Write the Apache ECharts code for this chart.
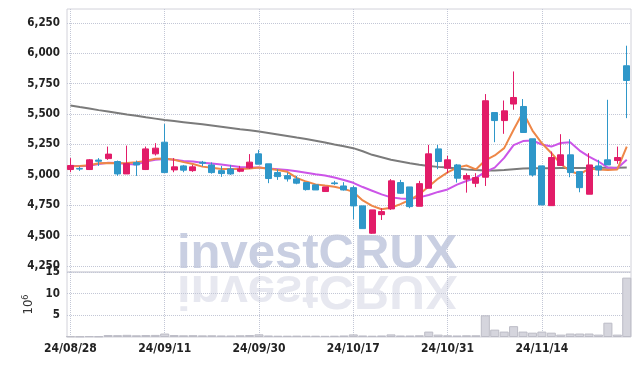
<!DOCTYPE html>
<html>
<head>
<meta charset="utf-8">
<script src="https://cdn.jsdelivr.net/npm/echarts@6/dist/echarts.min.js"></script>
<style>
html,body{margin:0;padding:0;background:#fff}
#chart{width:639px;height:366px}
</style>
</head>
<body>
<div id="chart"></div>
<script>
// trading days (yy/mm/dd)
var dates = ['24/08/28','24/08/29','24/08/30','24/09/02','24/09/03','24/09/04','24/09/05','24/09/06','24/09/09','24/09/10',
  '24/09/11','24/09/12','24/09/13','24/09/19','24/09/20','24/09/23','24/09/24','24/09/25','24/09/26','24/09/27',
  '24/09/30','24/10/02','24/10/04','24/10/07','24/10/08','24/10/10','24/10/11','24/10/14','24/10/15','24/10/16',
  '24/10/17','24/10/18','24/10/21','24/10/22','24/10/23','24/10/24','24/10/25','24/10/28','24/10/29','24/10/30',
  '24/10/31','24/11/01','24/11/04','24/11/05','24/11/06','24/11/07','24/11/08','24/11/11','24/11/12','24/11/13',
  '24/11/14','24/11/15','24/11/18','24/11/19','24/11/20','24/11/21','24/11/22','24/11/25','24/11/26','24/11/27'];

// open, close, low, high
var ohlc = [
  [5044,5077,5022,5138],[5052,5048,5033,5068],[5044,5124,5040,5130],[5122,5112,5074,5138],[5134,5171,5124,5233],
  [5110,5008,4992,5118],[5008,5093,5008,5241],[5101,5082,4992,5118],[5044,5214,5040,5233],[5173,5220,5159,5261],
  [5269,5019,5019,5418],[5041,5066,5022,5138],[5074,5039,5022,5082],[5035,5066,5025,5082],[5104,5096,5072,5115],
  [5082,5019,5010,5103],[5035,5011,4984,5074],[5049,5008,5000,5082],[5030,5049,5022,5074],[5058,5105,5049,5171],
  [5173,5088,5088,5206],[5091,4970,4932,5091],[5019,4986,4959,5047],[4994,4967,4945,5019],[4967,4932,4923,4992],
  [4937,4879,4871,4937],[4918,4876,4876,4918],[4863,4901,4863,4901],[4934,4928,4918,4951],[4909,4876,4871,4940],
  [4895,4745,4635,4909],[4745,4558,4558,4745],[4520,4712,4515,4712],[4673,4698,4629,4726],[4720,4951,4712,4965],
  [4937,4849,4843,4959],[4901,4739,4726,4901],[4742,4928,4742,4951],[4890,5173,4890,5247],[5214,5110,5047,5247],
  [5055,5124,5014,5157],[5082,4973,4937,5090],[4965,4994,4854,5014],[4931,4978,4899,5014],[4981,5610,4909,5665],
  [5513,5447,5269,5513],[5447,5527,5338,5612],[5583,5637,5536,5851],[5563,5349,5349,5624],[5297,5000,4986,5297],
  [5074,4753,4753,5074],[4747,5143,4747,5192],[5077,5165,5077,5335],[5165,5019,4981,5294],[5027,4895,4857,5027],
  [4841,5082,4841,5179],[5074,5041,4992,5124],[5124,5082,5082,5618],[5118,5143,5091,5233],[5898,5777,5467,6063]
];

// volume, millions
var volume = [0.15,0.12,0.18,0.14,0.45,0.42,0.5,0.4,0.45,0.48,
  0.8,0.45,0.4,0.42,0.38,0.4,0.36,0.35,0.4,0.45,
  0.62,0.35,0.3,0.3,0.32,0.3,0.3,0.28,0.3,0.35,
  0.6,0.35,0.3,0.35,0.6,0.35,0.35,0.4,1.25,0.55,
  0.4,0.35,0.4,0.4,5.0,1.7,1.25,2.5,1.25,1.0,
  1.25,1.0,0.55,0.8,0.8,0.8,0.55,3.3,0.55,13.7];

var maShort = [5072,5074,5080,5096,5098,5096,5098,5105,5115,5133,
  5135,5124,5105,5090,5068,5058,5049,5049,5049,5052,
  5060,5050,5040,5025,4975,4945,4922,4912,4903,4885,
  4860,4790,4745,4717,4730,4760,4795,4840,4905,4970,
  5020,5060,5077,5045,5120,5160,5220,5371,5515,5365,
  5260,5180,5090,5030,5005,5052,5045,5040,5045,5233];

var maMid = [5075,5072,5076,5090,5100,5098,5090,5085,5110,5125,
  5130,5124,5115,5110,5100,5093,5085,5075,5065,5060,
  5060,5052,5046,5040,5030,5018,5005,4995,4978,4958,
  4935,4900,4870,4840,4815,4806,4802,4815,4835,4860,
  4880,4920,4950,4975,5025,5060,5140,5245,5278,5283,
  5250,5233,5262,5269,5200,5150,5110,5060,5055,5124];

var maLong = [5571,5558,5546,5533,5521,5509,5497,5486,5474,5463,
  5452,5443,5434,5425,5416,5406,5396,5386,5376,5367,
  5357,5345,5333,5320,5307,5295,5281,5266,5250,5235,
  5220,5195,5165,5145,5125,5110,5095,5083,5074,5066,
  5060,5052,5045,5040,5036,5036,5040,5046,5052,5055,
  5055,5055,5056,5057,5057,5057,5058,5058,5059,5060];

var dateTicks = [0,10,20,30,40,50];
var priceTicks = [4250,4500,4750,5000,5250,5500,5750,6000,6250];
var volTicks = [5,10,15];

var UP = '#e21c68', DOWN = '#2f97c9';
var FONT = 'DejaVu Sans Condensed';
var gridLine = { show: true, lineStyle: { color: '#c3c7d6', type: 'dotted', width: 1 } };

function withIndex(arr) {
  return arr.map(function (v, i) { return [i].concat(v); });
}

var chart = echarts.init(document.getElementById('chart'));
var xBase = {
  type: 'value', min: -0.36, max: 59.45,
  axisLine: { show: false }, axisTick: { show: false, customValues: dateTicks },
  splitLine: gridLine
};

chart.setOption({
  animation: false,
  graphic: [
    {
      type: 'text', z: -10,
      x: 177, y: 279,
      style: { text: 'investCRUX', font: 'bold 49px "Liberation Sans"', fill: '#c9cfe2', verticalAlign: 'bottom' }
    },
    {
      type: 'text', z: -10,
      x: 177, y: 265, scaleY: -1,
      style: { text: 'investCRUX', font: 'bold 49px "Liberation Sans"', fill: '#e7e8f0', verticalAlign: 'bottom' }
    }
  ],
  grid: [
    { left: 67, right: 8, top: 9, height: 263, show: true, borderColor: '#d2d2da', borderWidth: 1 },
    { left: 67, right: 8, top: 272, height: 65, show: true, borderColor: '#d2d2da', borderWidth: 1 }
  ],
  xAxis: [
    Object.assign({ gridIndex: 0, axisLabel: { show: false, customValues: dateTicks } }, xBase),
    Object.assign({ gridIndex: 1, axisLabel: {
      customValues: dateTicks, margin: 6, color: '#222', fontFamily: FONT, fontWeight: 'bold', fontSize: 12,
      formatter: function (v) { return dates[v]; }
    } }, xBase)
  ],
  yAxis: [
    {
      gridIndex: 0, type: 'value', min: 4201, max: 6365,
      axisLine: { show: false }, axisTick: { show: false, customValues: priceTicks },
      axisLabel: {
        customValues: priceTicks, margin: 7, color: '#222', fontFamily: FONT, fontWeight: 'bold', fontSize: 11.5,
        formatter: function (v) { return v.toLocaleString('en-US'); }
      },
      splitLine: gridLine
    },
    {
      gridIndex: 1, type: 'value', min: 0, max: 15,
      axisLine: { show: false }, axisTick: { show: false, customValues: volTicks },
      axisLabel: { customValues: volTicks, margin: 7, color: '#222', fontFamily: FONT, fontWeight: 'bold', fontSize: 11.5 },
      splitLine: gridLine,
      name: '10{s|6}', nameLocation: 'middle', nameRotate: 90, nameGap: 23,
      nameTextStyle: { color: '#333', fontFamily: FONT, fontSize: 13, rich: { s: { fontSize: 9, verticalAlign: 'top', padding: [0, 0, 6, 0], fontFamily: FONT, color: '#333' } } }
    }
  ],
  series: [
    {
      type: 'bar', xAxisIndex: 1, yAxisIndex: 1, barWidth: '96%',
      data: withIndex(volume),
      itemStyle: { color: '#d5d5dd', borderColor: '#bcbcc6', borderWidth: 1 }
    },
    {
      type: 'line', data: withIndex(maLong), symbol: 'none',
      lineStyle: { color: '#7b7b7b', width: 2 }, z: 3
    },
    {
      type: 'line', data: withIndex(maMid), symbol: 'none',
      lineStyle: { color: '#cc55e8', width: 2 }, z: 3
    },
    {
      type: 'line', data: withIndex(maShort), symbol: 'none',
      lineStyle: { color: '#ee8748', width: 2 }, z: 3
    },
    {
      type: 'candlestick', barWidth: 6.5,
      encode: { x: 0, y: [1, 2, 3, 4] },
      data: withIndex(ohlc),
      itemStyle: { color: UP, color0: DOWN, borderColor: UP, borderColor0: DOWN, borderWidth: 1 },
      z: 4
    }
  ]
});
</script>
</body>
</html>
